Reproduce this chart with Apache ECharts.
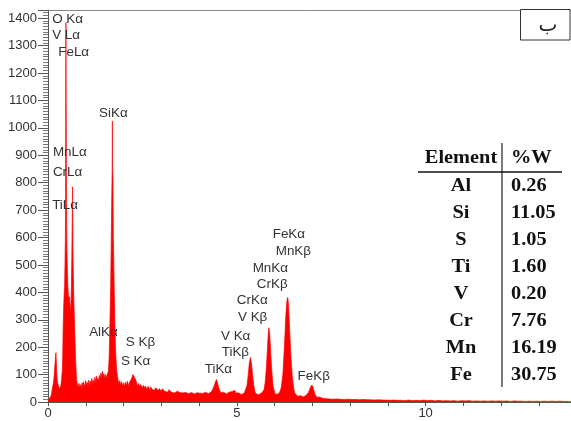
<!DOCTYPE html>
<html>
<head>
<meta charset="utf-8">
<script src="https://cdn.jsdelivr.net/npm/echarts@6/dist/echarts.min.js"></script>
<style>
  html, body { margin: 0; padding: 0; background: #fff; }
  #chart { width: 571px; height: 421px; }
</style>
</head>
<body>
<div id="chart"></div>
<script>
// EDS spectrum: [energy (keV), counts]
const lowEnergyBand = [
  [0.00,0],[0.02,6],[0.04,14],[0.06,10],[0.08,22],[0.10,35],[0.12,52],[0.14,68],[0.16,90],
  [0.18,128],[0.20,168],[0.21,180],[0.22,150],[0.23,112],[0.24,84],[0.26,66],[0.28,58],
  [0.30,47],[0.32,44],[0.34,58],[0.36,82],[0.38,118],[0.39,170],[0.40,262],[0.41,318],
  [0.42,365],[0.43,402],[0.44,425],[0.45,505],[0.46,598],[0.465,760],[0.47,1130],
  [0.475,1385],[0.48,1120],[0.485,920],[0.49,700],[0.50,560],[0.51,505],[0.52,455],
  [0.53,410],[0.54,392],[0.55,386],[0.56,372],[0.57,383],[0.58,362],[0.59,343],[0.60,335],
  [0.61,368],[0.62,420],[0.63,520],[0.64,650],[0.65,785],[0.655,700],[0.66,560],[0.67,480],
  [0.68,400],[0.69,345],[0.70,300],[0.71,250],[0.72,205],[0.73,160],[0.74,128],[0.75,98],
  [0.76,78],[0.78,62]
];
const alSiBand = [
  [0.80,54],[0.82,68],[0.84,52],[0.86,63],[0.88,48],[0.90,70],[0.92,58],[0.94,74],[0.96,55],
  [0.98,66],[1.00,78],[1.02,60],[1.04,72],[1.06,57],[1.08,80],[1.10,64],[1.12,76],[1.14,62],
  [1.16,86],[1.18,70],[1.20,79],[1.22,66],[1.24,90],[1.26,72],[1.28,95],[1.30,78],[1.32,88],
  [1.34,74],[1.36,97],[1.38,84],[1.40,106],[1.42,88],[1.44,112],[1.46,92],[1.48,104],
  [1.50,86],[1.52,100],[1.54,84],[1.56,98],[1.58,92],[1.60,112],[1.62,165],[1.64,290],
  [1.66,420],[1.67,530],[1.68,650],[1.69,760],[1.70,850],[1.705,1025],[1.71,858],[1.72,820],
  [1.73,600],[1.74,530],[1.75,440],[1.77,290],[1.79,190],[1.80,160],[1.82,112]
];
const sTiBand = [
  [1.85,84],[1.875,66],[1.90,78],[1.925,60],[1.95,74],[1.975,58],[2.00,70],[2.025,55],
  [2.05,72],[2.075,61],[2.10,76],[2.125,58],[2.15,70],[2.175,64],[2.20,82],[2.225,90],
  [2.25,100],[2.275,107],[2.30,94],[2.325,80],[2.35,66],[2.375,58],[2.40,68],[2.425,54],
  [2.45,64],[2.475,57],[2.50,52],[2.525,61],[2.55,50],[2.575,58],[2.60,53],[2.625,47],
  [2.65,57],[2.675,50],[2.70,44],[2.725,55],[2.75,46],[2.775,53],[2.80,49],[2.825,43],
  [2.85,52],[2.875,45],[2.90,50],[2.925,41],[2.95,49],[2.975,44],[3.00,39],[3.025,48],
  [3.05,42],[3.075,46],[3.10,38],[3.125,44],[3.15,40],[3.175,36],[3.20,45],[3.225,38],
  [3.25,42],[3.275,35],[3.30,41],[3.325,37],[3.35,33],[3.375,40],[3.40,35],[3.425,39],
  [3.45,32],[3.475,38],[3.50,34],[3.525,30],[3.55,37],[3.575,33],[3.60,36],[3.625,29],
  [3.65,35],[3.675,32],[3.70,37],[3.725,30],[3.75,34],[3.775,28],[3.80,35],[3.825,31],
  [3.85,33],[3.875,29],[3.90,36],[3.925,31],[3.95,34],[3.975,28],[4.00,35],[4.025,32],
  [4.05,30],[4.075,36],[4.10,31],[4.125,34],[4.15,29],[4.175,36],[4.20,32],[4.225,35],
  [4.25,30],[4.275,37],[4.30,33]
];
const transitionMetalBand = [
  [4.33,38],[4.36,46],[4.40,58],[4.43,72],[4.46,82],[4.49,70],[4.52,52],[4.55,42],[4.575,34],
  [4.60,38],[4.625,31],[4.65,36],[4.675,30],[4.70,35],[4.725,29],[4.75,34],[4.775,31],
  [4.80,36],[4.825,33],[4.85,41],[4.875,38],[4.90,45],[4.925,37],[4.95,42],[4.975,33],
  [5.00,35],[5.025,29],[5.05,33],[5.075,28],[5.10,32],[5.125,27],[5.15,31],[5.175,28],
  [5.20,33],[5.225,31],[5.25,40],[5.27,60],[5.30,95],[5.33,140],[5.36,162],[5.39,140],
  [5.42,95],[5.45,60],[5.475,40],[5.50,31],[5.525,27],[5.55,31],[5.575,26],[5.60,30],
  [5.625,27],[5.65,32],[5.675,29],[5.70,36],[5.72,44],[5.75,70],[5.78,120],[5.81,190],
  [5.83,245],[5.85,271],[5.87,250],[5.90,175],[5.93,105],[5.96,58],[6.00,36],[6.025,28],
  [6.05,31],[6.075,25],[6.10,29],[6.125,33],[6.15,40],[6.18,55],[6.22,100],[6.26,200],
  [6.30,320],[6.33,372],[6.35,382],[6.37,352],[6.40,262],[6.43,170],[6.47,92],[6.51,46],
  [6.54,31],[6.565,24],[6.59,27],[6.615,21],[6.64,24],[6.665,19],[6.69,23],[6.715,20],
  [6.74,24],[6.765,18],[6.79,22],[6.815,20],[6.84,25],[6.865,27],[6.89,33],[6.92,42],
  [6.95,54],[6.97,58],[6.99,62],[7.02,54],[7.05,38],[7.075,26],[7.10,21],[7.125,17],
  [7.15,20],[7.175,15],[7.20,18],[7.225,14],[7.25,17],[7.275,13],[7.30,16]
];
const highEnergyTail = [
  [7.35,12],[7.40,15],[7.45,11],[7.50,14],[7.55,10],[7.60,13],[7.65,11],[7.70,14],[7.75,10],
  [7.80,12],[7.85,9],[7.90,12],[7.95,10],[8.00,11],[8.05,9],[8.10,12],[8.15,9],[8.20,11],
  [8.25,8],[8.30,10],[8.35,9],[8.40,11],[8.45,8],[8.50,10],[8.55,8],[8.60,9],[8.65,7],
  [8.70,10],[8.75,8],[8.80,9],[8.85,7],[8.90,9],[8.95,7],[9.00,8],[9.05,6],[9.10,8],
  [9.15,7],[9.20,8],[9.25,6],[9.30,7],[9.35,6],[9.40,8],[9.45,5],[9.55,7],[9.65,5],
  [9.75,6],[9.85,5],[9.95,7],[10.05,5],[10.15,6],[10.25,4],[10.35,6],[10.45,4],[10.55,5],
  [10.65,4],[10.75,5],[10.85,3],[10.95,5],[11.05,4],[11.15,5],[11.25,3],[11.35,4],[11.45,3],
  [11.55,4],[11.65,3],[11.75,4],[11.85,3],[11.95,4],[12.05,3],[12.15,4],[12.25,2],[12.35,4],
  [12.45,3],[12.55,3],[12.65,2],[12.75,3],[12.85,2],[12.95,3],[13.05,2],[13.15,3],[13.25,2],
  [13.35,3],[13.45,2],[13.55,3],[13.65,2],[13.75,2],[13.85,2]
];

// Peak annotations: [text, energy (keV), counts] anchoring each label's left-middle point
const peakLabels = [
  ['O K\u03b1', 0.11, 1396], ['V L\u03b1', 0.11, 1338], ['FeL\u03b1', 0.27, 1276],
  ['SiK\u03b1', 1.35, 1050], ['MnL\u03b1', 0.13, 908], ['CrL\u03b1', 0.13, 838],
  ['TiL\u03b1', 0.11, 715], ['AlK\u03b1', 1.09, 252], ['S K\u03b2', 2.06, 215],
  ['S K\u03b1', 1.93, 146], ['TiK\u03b1', 4.15, 117], ['TiK\u03b2', 4.60, 179],
  ['V K\u03b1', 4.58, 237], ['V K\u03b2', 5.03, 306], ['CrK\u03b1', 5.00, 368],
  ['CrK\u03b2', 5.53, 427], ['MnK\u03b1', 5.42, 485], ['MnK\u03b2', 6.03, 547],
  ['FeK\u03b1', 5.95, 612], ['FeK\u03b2', 6.61, 91]
];

// Composition table
const tableHeader = ['Element', '%W'];
const tableElements = ['Al', 'Si', 'S', 'Ti', 'V', 'Cr', 'Mn', 'Fe'];
const tableWeights = ['0.26', '11.05', '1.05', '1.60', '0.20', '7.76', '16.19', '30.75'];

const panelMark = '\u0628';

const X_MAX = 13.85;
const Y_MAX = 1430;
const SANS = '"Liberation Sans", Arial, sans-serif';
const SERIF = '"Liberation Serif", "Times New Roman", serif';

const spectrum = [].concat(lowEnergyBand, alSiBand, sTiBand, transitionMetalBand, highEnergyTail);

const chart = echarts.init(document.getElementById('chart'), null, { renderer: 'canvas' });

chart.setOption({
  animation: false,
  backgroundColor: '#fff',
  grid: { left: 48, right: 0, top: 10, bottom: 19, containLabel: false },
  xAxis: [
    {
      type: 'value', min: 0, max: X_MAX, interval: 1,
      axisLine: { show: true, lineStyle: { color: '#555', width: 1 } },
      axisTick: { show: true, length: 4, lineStyle: { color: '#555' } },
      axisLabel: {
        formatter: v => (Math.abs(v % 5) < 1e-9 ? String(v) : ''),
        fontSize: 13, color: '#333', margin: 5, fontFamily: SANS,
        showMaxLabel: false
      },
      splitLine: { show: false }
    },
    {
      type: 'value', position: 'top', min: 0, max: X_MAX,
      axisLine: { show: true, lineStyle: { color: '#888', width: 1 } },
      axisTick: { show: false }, axisLabel: { show: false }, splitLine: { show: false }
    }
  ],
  yAxis: {
    type: 'value', min: 0, max: Y_MAX, interval: 100,
    axisLine: { show: true, lineStyle: { color: '#555', width: 1 } },
    axisTick: { show: true, length: 10, lineStyle: { color: '#555' } },
    minorTick: { show: true, splitNumber: 10, length: 5, lineStyle: { color: '#777' } },
    axisLabel: {
      formatter: v => (v % 100 === 0 ? String(v) : ''),
      fontSize: 13, color: '#333', margin: 11, fontFamily: SANS
    },
    splitLine: { show: false }
  },
  series: [{
    type: 'line',
    data: spectrum,
    showSymbol: false,
    symbol: 'none',
    lineStyle: { color: '#ff0000', width: 0.7 },
    areaStyle: { color: '#ff0000', opacity: 1 },
    z: 2
  }]
});

// Annotations, table and panel box drawn as graphic elements
const graphics = [];

peakLabels.forEach(([text, e, c]) => {
  const [px, py] = chart.convertToPixel({ xAxisIndex: 0, yAxisIndex: 0 }, [e, c]);
  graphics.push({
    type: 'text', x: px, y: py, scaleX: 1.12, z: 100,
    style: { text, fontSize: 12, fontFamily: SANS, fill: '#333', align: 'left', verticalAlign: 'middle' }
  });
});

const TABLE = { elemX: 461, valX: 511, headY: 158, rowY: 186, rowStep: 27.1, ruleX: 502, top: 143, bottom: 387, ruleY: 172, left: 418, right: 562 };
const cellStyle = { fontSize: 18, fontWeight: 'bold', fontFamily: SERIF, fill: '#111', verticalAlign: 'middle' };

graphics.push({ type: 'text', x: TABLE.elemX, y: TABLE.headY, scaleX: 1.13, z: 100,
  style: Object.assign({ text: tableHeader[0], align: 'center' }, cellStyle) });
graphics.push({ type: 'text', x: TABLE.valX, y: TABLE.headY, scaleX: 1.13, z: 100,
  style: Object.assign({ text: tableHeader[1], align: 'left' }, cellStyle) });
tableElements.forEach((el, i) => {
  const y = TABLE.rowY + i * TABLE.rowStep;
  graphics.push({ type: 'text', x: TABLE.elemX, y, scaleX: 1.13, z: 100,
    style: Object.assign({ text: el, align: 'center' }, cellStyle) });
  graphics.push({ type: 'text', x: TABLE.valX, y, scaleX: 1.13, z: 100,
    style: Object.assign({ text: tableWeights[i], align: 'left' }, cellStyle) });
});
graphics.push({ type: 'line', z: 100, shape: { x1: TABLE.ruleX, y1: TABLE.top, x2: TABLE.ruleX, y2: TABLE.bottom },
  style: { stroke: '#222', lineWidth: 1.2 } });
graphics.push({ type: 'line', z: 100, shape: { x1: TABLE.left, y1: TABLE.ruleY, x2: TABLE.right, y2: TABLE.ruleY },
  style: { stroke: '#111', lineWidth: 1.6 } });

graphics.push({ type: 'rect', z: 100, shape: { x: 520.5, y: 9.5, width: 49.5, height: 30.5 },
  style: { fill: '#fff', stroke: '#333', lineWidth: 1 } });
graphics.push({ type: 'text', x: 548, y: 26, z: 101,
  style: { text: panelMark, fontSize: 20, fontFamily: '"DejaVu Sans", "Noto Sans", sans-serif', fill: '#222', align: 'center', verticalAlign: 'middle' } });

chart.setOption({ graphic: graphics });
</script>
</body>
</html>
